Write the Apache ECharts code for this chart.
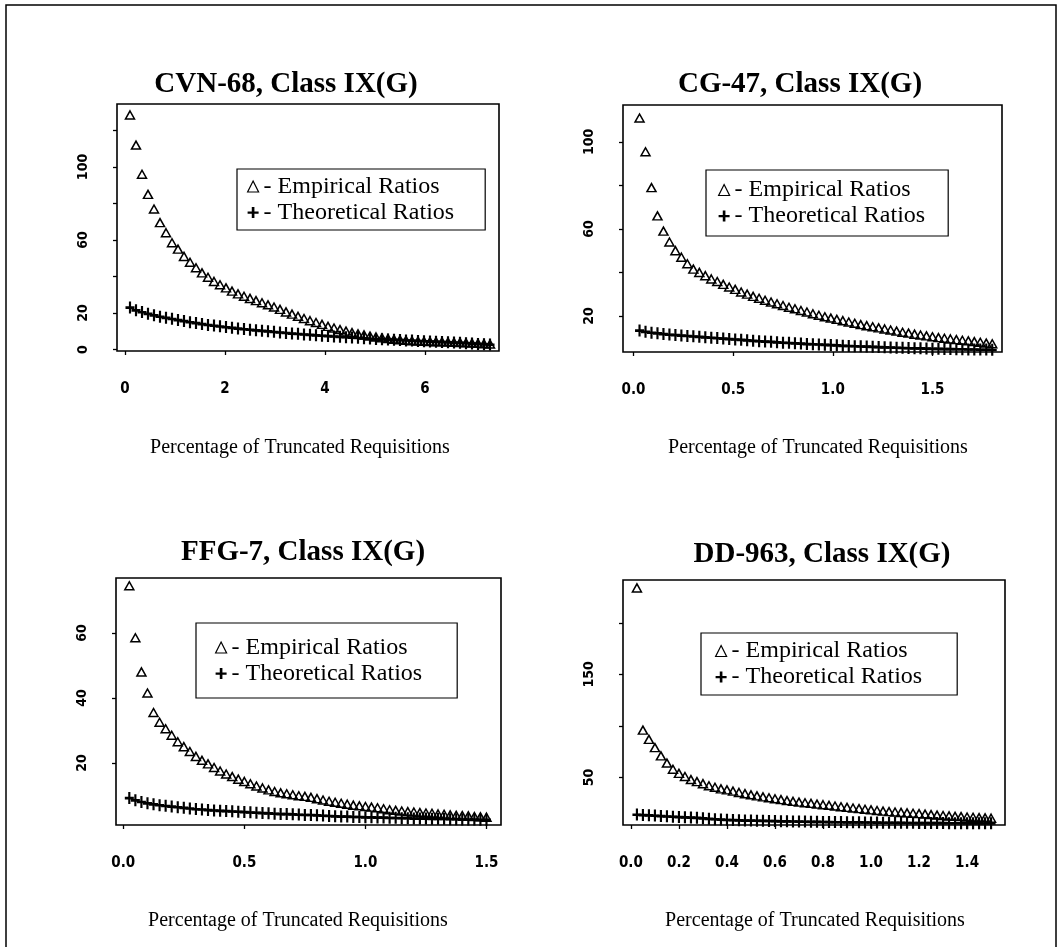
<!DOCTYPE html>
<html>
<head>
<meta charset="utf-8">
<script src="https://cdn.jsdelivr.net/npm/echarts@6/dist/echarts.min.js"></script>
<style>
html,body{margin:0;padding:0;background:#fff;}
#chart{width:1062px;height:947px;}
</style>
</head>
<body>
<div id="chart"></div>
<script>
// ---------- DATA ----------
const titles = ['CVN-68, Class IX(G)', 'CG-47, Class IX(G)', 'FFG-7, Class IX(G)', 'DD-963, Class IX(G)'];
const xAxisTitle = 'Percentage of Truncated Requisitions';
const seriesNames = ['Empirical Ratios', 'Theoretical Ratios'];

// CVN-68
const x1 = [0.10,0.22,0.34,0.46,0.58,0.70,0.82,0.94,1.06,1.18,1.30,1.42,1.54,1.66,1.78,1.90,2.02,2.14,2.26,2.38,2.50,2.62,2.74,2.86,2.98,3.10,3.22,3.34,3.46,3.58,3.70,3.82,3.94,4.06,4.18,4.30,4.42,4.54,4.66,4.78,4.90,5.02,5.14,5.26,5.38,5.50,5.62,5.74,5.86,5.98,6.10,6.22,6.34,6.46,6.58,6.70,6.82,6.94,7.06,7.18,7.30];
const emp1 = [128.5,112,96,85,77,69.5,64,58.5,55,51,47.8,44.8,42,39.6,37.3,35.5,33.8,32.0,30.5,29.2,28.0,26.8,25.6,24.5,23.3,22.0,20.6,19.4,18.2,17.0,15.8,14.8,13.8,12.7,11.8,10.9,10.1,9.3,8.6,8.0,7.4,6.9,6.4,6.0,5.6,5.3,5.0,4.8,4.6,4.5,4.4,4.3,4.2,4.1,4.0,3.9,3.7,3.6,3.4,3.2,3.0];
const theo1 = [23.0,21.5,20.5,19.6,18.8,18.0,17.4,16.8,16.2,15.6,15.0,14.5,14.0,13.5,13.1,12.7,12.3,11.9,11.5,11.2,10.9,10.6,10.3,10.0,9.7,9.4,9.1,8.8,8.6,8.3,8.1,7.8,7.6,7.4,7.2,7.0,6.8,6.6,6.4,6.2,6.0,5.8,5.6,5.5,5.3,5.2,5.0,4.9,4.7,4.6,4.4,4.3,4.1,4.0,3.8,3.7,3.5,3.3,3.1,2.9,2.7];

// CG-47
const x2 = [0.03,0.06,0.09,0.12,0.15,0.18,0.21,0.24,0.27,0.30,0.33,0.36,0.39,0.42,0.45,0.48,0.51,0.54,0.57,0.60,0.63,0.66,0.69,0.72,0.75,0.78,0.81,0.84,0.87,0.90,0.93,0.96,0.99,1.02,1.05,1.08,1.11,1.14,1.17,1.20,1.23,1.26,1.29,1.32,1.35,1.38,1.41,1.44,1.47,1.50,1.53,1.56,1.59,1.62,1.65,1.68,1.71,1.74,1.77,1.80];
const emp2 = [111,95.5,79,66,59,54,50,47,44,41.5,40,38.5,37,35.8,34.5,33.3,32.2,31.0,30.0,29.0,28.1,27.2,26.4,25.6,24.8,24.0,23.3,22.5,21.8,21.0,20.3,19.6,19.0,18.4,17.8,17.2,16.6,16.0,15.5,15.0,14.5,14.0,13.5,13.0,12.5,12.1,11.6,11.2,10.8,10.4,10.0,9.7,9.4,9.1,8.8,8.5,8.2,7.9,7.5,7.2];
const theo2 = [13.3,12.7,12.3,12.0,11.7,11.4,11.2,11.0,10.8,10.6,10.4,10.2,10.0,9.8,9.6,9.4,9.2,9.0,8.8,8.6,8.4,8.2,8.1,7.9,7.7,7.6,7.4,7.3,7.1,7.0,6.9,6.7,6.6,6.5,6.3,6.2,6.1,6.0,5.9,5.8,5.7,5.6,5.5,5.4,5.3,5.2,5.1,5.1,5.0,4.9,4.9,4.8,4.8,4.7,4.7,4.6,4.6,4.5,4.5,4.4];

// FFG-7
const x3 = [0.025,0.050,0.075,0.100,0.125,0.150,0.175,0.200,0.225,0.250,0.275,0.300,0.325,0.350,0.375,0.400,0.425,0.450,0.475,0.500,0.525,0.550,0.575,0.600,0.625,0.650,0.675,0.700,0.725,0.750,0.775,0.800,0.825,0.850,0.875,0.900,0.925,0.950,0.975,1.000,1.025,1.050,1.075,1.100,1.125,1.150,1.175,1.200,1.225,1.250,1.275,1.300,1.325,1.350,1.375,1.400,1.425,1.450,1.475,1.500];
const emp3 = [74.5,58.5,48,41.5,35.5,32.5,30.5,28.5,26.5,25.0,23.5,22.0,20.8,19.7,18.6,17.5,16.6,15.8,15.0,14.3,13.6,12.9,12.3,11.7,11.2,10.8,10.5,10.2,9.9,9.7,9.4,9.0,8.6,8.2,7.9,7.6,7.3,7.0,6.8,6.6,6.4,6.2,5.9,5.6,5.4,5.2,5.0,4.9,4.7,4.6,4.5,4.3,4.2,4.0,3.9,3.8,3.7,3.5,3.4,3.3];
const theo3 = [9.2,8.5,8.0,7.6,7.3,7.0,6.8,6.6,6.4,6.2,6.0,5.8,5.7,5.5,5.4,5.3,5.2,5.1,5.0,4.9,4.8,4.7,4.6,4.5,4.4,4.3,4.3,4.2,4.1,4.0,4.0,3.9,3.8,3.7,3.6,3.5,3.5,3.4,3.4,3.3,3.3,3.2,3.2,3.1,3.1,3.0,3.0,2.9,2.9,2.9,2.8,2.8,2.8,2.7,2.7,2.6,2.6,2.6,2.5,2.5];

// DD-963
const x4 = [0.025,0.050,0.075,0.100,0.125,0.150,0.175,0.200,0.225,0.250,0.275,0.300,0.325,0.350,0.375,0.400,0.425,0.450,0.475,0.500,0.525,0.550,0.575,0.600,0.625,0.650,0.675,0.700,0.725,0.750,0.775,0.800,0.825,0.850,0.875,0.900,0.925,0.950,0.975,1.000,1.025,1.050,1.075,1.100,1.125,1.150,1.175,1.200,1.225,1.250,1.275,1.300,1.325,1.350,1.375,1.400,1.425,1.450,1.475,1.500];
const emp4 = [234,96,87,79,71,64,58,54,51,48,46,44,42,40.5,39,38,36.8,35.5,34.3,33.2,32.2,31.2,30.3,29.4,28.5,27.6,26.8,26.1,25.5,24.9,24.2,23.6,23.0,22.3,21.6,21.0,20.4,19.8,19.2,18.6,18.0,17.4,16.9,16.5,16.1,15.7,15.3,14.9,14.5,14.0,13.5,13.1,12.7,12.3,12.0,11.7,11.4,11.1,10.8,10.5];
const theo4 = [14.0,13.6,13.3,13.0,12.6,12.3,12.0,11.7,11.4,11.2,10.9,10.4,10.0,9.6,9.2,8.9,8.7,8.5,8.3,8.2,8.1,8.0,7.9,7.8,7.6,7.5,7.4,7.3,7.2,7.1,7.0,6.9,6.8,6.7,6.7,6.6,6.6,6.5,6.4,6.4,6.3,6.2,6.2,6.1,6.1,6.0,6.0,5.9,5.9,5.8,5.8,5.8,5.7,5.7,5.7,5.6,5.6,5.6,5.5,5.5];

// tick values and tick labels
const xTicks1 = [0, 2, 4, 6];
const xTicks2 = [0, 0.5, 1.0, 1.5];
const xTicks3 = [0, 0.5, 1.0, 1.5];
const xTicks4 = [0, 0.2, 0.4, 0.6, 0.8, 1.0, 1.2, 1.4];
const yTicks1 = [0, 20, 40, 60, 80, 100, 120];
const yLabels1 = [0, 20, 60, 100];
const yTicks2 = [20, 40, 60, 80, 100];
const yLabels2 = [20, 60, 100];
const yTicks3 = [20, 40, 60];
const yLabels3 = [20, 40, 60];
const yTicks4 = [50, 100, 150, 200];
const yLabels4 = [50, 150];

// ---------- LAYOUT ----------
const panels = [
  {grid:{left:117,top:104,width:382,height:247}, xr:[-0.16,7.48], yr:[-0.8,134.5], xt:xTicks1, xd:0, yt:yTicks1, yl:yLabels1,
   x:x1, e:emp1, t:theo1, title:{x:286,y:70}, axTitle:{x:300,y:438},
   legend:{left:237,top:169,pad:[4.5,31,4.5,10]}},
  {grid:{left:623,top:105,width:379,height:247}, xr:[-0.053,1.849], yr:[3.4,117], xt:xTicks2, xd:1, yt:yTicks2, yl:yLabels2,
   x:x2, e:emp2, t:theo2, title:{x:800,y:70}, axTitle:{x:818,y:438},
   legend:{left:706,top:170,pad:[7,23,7,12]}},
  {grid:{left:116,top:578,width:385,height:247}, xr:[-0.03,1.56], yr:[0.9,76.9], xt:xTicks3, xd:1, yt:yTicks3, yl:yLabels3,
   x:x3, e:emp3, t:theo3, title:{x:303,y:538}, axTitle:{x:298,y:911},
   legend:{left:196,top:623,pad:[11.5,35,11.5,19]}},
  {grid:{left:623,top:580,width:382,height:245}, xr:[-0.033,1.558], yr:[3.9,241.7], xt:xTicks4, xd:1, yt:yTicks4, yl:yLabels4,
   x:x4, e:emp4, t:theo4, title:{x:822,y:540}, axTitle:{x:815,y:911},
   legend:{left:701,top:633,pad:[5,35,5,14]}}
];

const PLUS = 'path://M3.8,0H6.2V4H10V6.2H6.2V10H3.8V6.2H0V4H3.8Z';
const serif = "'Liberation Serif','Times New Roman',serif";
const tickFont = "'DejaVu Sans Condensed','DejaVu Sans',sans-serif";

const option = {
  animation: false,
  backgroundColor: '#fff',
  grid: [], xAxis: [], yAxis: [], series: [], title: [], legend: [],
  graphic: [{
    type: 'rect', silent: true,
    shape: {x: 6, y: 5, width: 1050, height: 960},
    style: {fill: 'none', stroke: '#000', lineWidth: 1.5}
  }]
};

panels.forEach((p, i) => {
  option.grid.push(Object.assign({show: true, borderColor: '#000', borderWidth: 1.6, backgroundColor: 'transparent'}, p.grid));
  option.xAxis.push({
    type: 'value', gridIndex: i, min: p.xr[0], max: p.xr[1], position: 'bottom',
    axisLine: {show: false, onZero: false},
    splitLine: {show: false},
    axisTick: {show: true, inside: false, length: 4, lineStyle: {color: '#000', width: 1.3}, customValues: p.xt},
    axisLabel: {show: true, customValues: p.xt, margin: 31, color: '#000', fontFamily: tickFont, fontWeight: 'bold', fontSize: 15,
      formatter: v => Number(v).toFixed(p.xd)}
  });
  option.yAxis.push({
    type: 'value', gridIndex: i, min: p.yr[0], max: p.yr[1], position: 'left',
    axisLine: {show: false, onZero: false},
    splitLine: {show: false},
    axisTick: {show: true, inside: false, length: 4, lineStyle: {color: '#000', width: 1.3}, customValues: p.yt},
    axisLabel: {show: true, customValues: p.yl, rotate: 90, margin: 27, color: '#000', fontFamily: tickFont, fontWeight: 'bold', fontSize: 14,
      formatter: v => String(Math.round(v))}
  });
  option.series.push({
    name: seriesNames[0], type: 'scatter', xAxisIndex: i, yAxisIndex: i, silent: true,
    symbol: 'triangle', symbolSize: [9, 8],
    itemStyle: {color: 'rgba(0,0,0,0)', borderColor: '#000', borderWidth: 1.5, opacity: 1},
    data: p.x.map((xv, k) => [xv, p.e[k]])
  });
  option.series.push({
    name: seriesNames[1], type: 'scatter', xAxisIndex: i, yAxisIndex: i, silent: true,
    symbol: PLUS, symbolSize: [9, 12],
    itemStyle: {color: '#000', opacity: 1},
    data: p.x.map((xv, k) => [xv, p.t[k]])
  });
  option.title.push({
    text: titles[i], left: p.title.x, top: p.title.y, textAlign: 'center', padding: 0,
    textStyle: {fontFamily: serif, fontWeight: 'bold', fontSize: 29, color: '#000'}
  });
  option.title.push({
    text: xAxisTitle, left: p.axTitle.x, top: p.axTitle.y, textAlign: 'center', padding: 0,
    textStyle: {fontFamily: serif, fontWeight: 'normal', fontSize: 20, color: '#000'}
  });
  option.legend.push({
    orient: 'vertical', left: p.legend.left, top: p.legend.top, padding: p.legend.pad,
    borderColor: '#000', borderWidth: 1.2, backgroundColor: '#fff',
    itemGap: 0, itemWidth: 11, itemHeight: 11, selectedMode: false,
    formatter: '- {name}',
    textStyle: {fontFamily: serif, fontSize: 24, lineHeight: 26, color: '#000'},
    data: [
      {name: seriesNames[0], icon: 'triangle', itemStyle: {color: '#fff', borderColor: '#000', borderWidth: 1.2}},
      {name: seriesNames[1], icon: PLUS, itemStyle: {color: '#000', borderWidth: 0}}
    ]
  });
});

const chart = echarts.init(document.getElementById('chart'), null, {renderer: 'canvas'});
chart.setOption(option);
</script>
</body>
</html>
